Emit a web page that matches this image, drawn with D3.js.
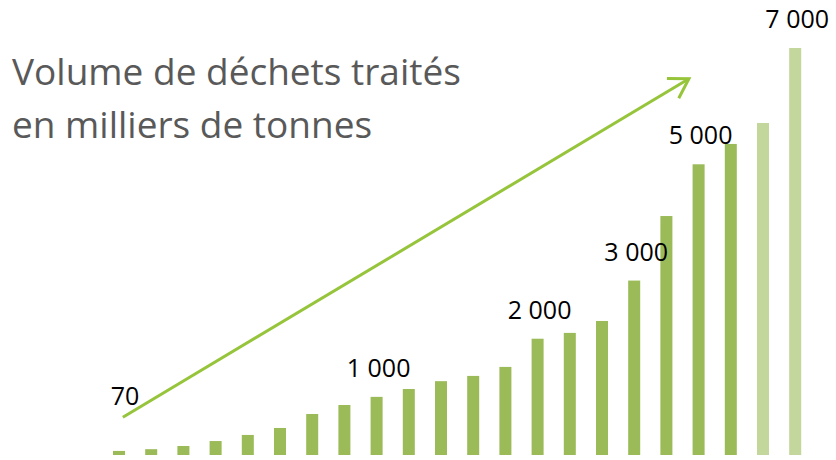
<!DOCTYPE html>
<html>
<head>
<meta charset="utf-8">
<script src="https://cdn.jsdelivr.net/npm/d3@7"></script>
<style>
  body{margin:0;background:#fff;}
  svg{display:block;}
</style>
</head>
<body>
<div id="chart"></div>
<script>
// volume de déchets traités, milliers de tonnes (les 2 dernières = prévisions)
const periods=d3.range(1,23).map(String);
const volumes=[70,100,155,240,345,465,705,860,1000,1135,1270,1360,1515,2000,2100,2305,3000,4110,5000,5350,5710,7000];
const forecast=[false,false,false,false,false,false,false,false,false,false,false,false,false,false,false,false,false,false,false,false,true,true];

// étiquettes affichées: index de barre, texte
const labelIdx=[0,8,13,16,18,21];
const labelText=["70","1 000","2 000","3 000","5 000","7 000"];

const titleLines=["Volume de déchets traités","en milliers de tonnes"];

// flèche de tendance (index, valeur)
const arrowFrom=[0.12,650];
const arrowTo=[17.7,6470];

const W=836,H=460;

const svg=d3.select("#chart")
    .append("svg")
    .attr("width",W)
    .attr("height",H);

const x=d3.scaleBand()
    .domain(periods)
    .range([113,801.2])
    .paddingInner(0.627)
    .paddingOuter(0);

const y=d3.scaleLinear()
    .domain([0,7000])
    .range([455,48]);

const xi=d3.scaleLinear()
    .domain([0,periods.length-1])
    .range([x(periods[0])+x.bandwidth()/2,x(periods[periods.length-1])+x.bandwidth()/2]);

svg.selectAll(".bar")
    .data(volumes)
    .enter()
    .append("rect")
    .attr("class","bar")
    .attr("x",(d,i)=>x(periods[i]))
    .attr("y",d=>y(d))
    .attr("width",x.bandwidth())
    .attr("height",d=>y(0)-y(d))
    .attr("fill",(d,i)=>forecast[i]?"#c3d69b":"#9bbb59");

svg.selectAll(".lbl")
    .data(labelIdx)
    .enter()
    .append("text")
    .attr("class","lbl")
    .attr("x",d=>xi(d)+(d===0?6:2))
    .attr("y",d=>d===0?y(volumes[d])-46:y(volumes[d])-20)
    .attr("text-anchor","middle")
    .attr("font-family","'Open Sans', sans-serif")
    .attr("font-size",25)
    .attr("fill","#000")
    .text((d,i)=>labelText[i]);

// flèche
const ax0=xi(arrowFrom[0]),ay0=y(arrowFrom[1]);
const ax1=xi(arrowTo[0]),ay1=y(arrowTo[1]);
const ang=Math.atan2(ay1-ay0,ax1-ax0);
const headLen=22,headAng=0.55;

svg.append("line")
    .attr("x1",ax0).attr("y1",ay0)
    .attr("x2",ax1).attr("y2",ay1)
    .attr("stroke","#96c43a")
    .attr("stroke-width",3);

svg.append("path")
    .attr("d",d3.line()([
        [ax1-headLen*Math.cos(ang-headAng),ay1-headLen*Math.sin(ang-headAng)],
        [ax1,ay1],
        [ax1-headLen*Math.cos(ang+headAng),ay1-headLen*Math.sin(ang+headAng)]
    ]))
    .attr("fill","none")
    .attr("stroke","#96c43a")
    .attr("stroke-width",3)
    .attr("stroke-linejoin","miter");

svg.selectAll(".title")
    .data(titleLines)
    .enter()
    .append("text")
    .attr("class","title")
    .attr("x",12)
    .attr("y",(d,i)=>85+i*53)
    .attr("font-family","'Open Sans', sans-serif")
    .attr("font-size",37)
    .attr("fill","#595959")
    .text(d=>d);
</script>
</body>
</html>
